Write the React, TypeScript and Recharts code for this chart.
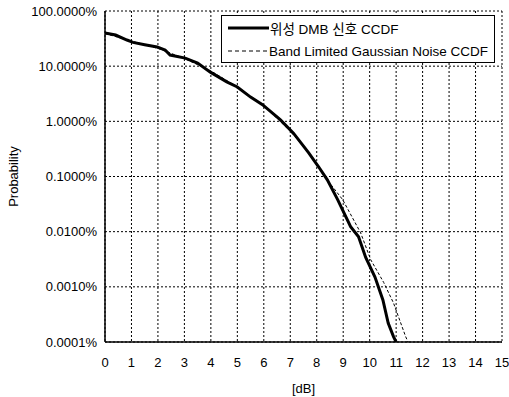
import React from 'react';
import { LineChart, Line, XAxis, YAxis, CartesianGrid, Legend } from 'recharts';

const satX = [0, 0.4, 0.83, 1.06, 1.5, 1.97, 2.27, 2.46, 3.03, 3.5, 3.98, 4.6, 5.0, 5.5, 5.95, 6.63, 7.12, 7.69, 8.07, 8.4, 8.79, 9.28, 9.58, 9.85, 10.2, 10.5, 10.7, 10.9, 11.0];
const satY = [39.8, 36.7, 29.8, 27, 24.5, 22.3, 19.6, 15.9, 14, 11.4, 7.8, 5.2, 4.2, 2.75, 2.0, 1.06, 0.61, 0.27, 0.15, 0.087, 0.038, 0.0123, 0.0081, 0.0034, 0.0015, 0.00058, 0.00022, 0.000125, 0.0001];

const gaussX = [0, 1, 2, 3, 4, 5, 6, 7, 7.6, 8.14, 8.5, 8.98, 9.66, 10.04, 10.53, 10.9, 11.36, 11.45];
const gaussY = [39, 28.5, 21, 13.8, 8.2, 4.2, 1.95, 0.66, 0.31, 0.13, 0.075, 0.038, 0.0095, 0.0031, 0.0012, 0.00051, 0.000125, 0.0001];

const xTicks = [0, 1, 2, 3, 4, 5, 6, 7, 8, 9, 10, 11, 12, 13, 14, 15];
const yTicks = [0.0001, 0.001, 0.01, 0.1, 1, 10, 100];

const seriesNames = ['위성 DMB 신호 CCDF', 'Band Limited Gaussian Noise CCDF'];

const satData = satX.map((x, i) => ({ x, y: satY[i] }));
const gaussData = gaussX.map((x, i) => ({ x, y: gaussY[i] }));

const FONT = '"Liberation Sans", Arial, "Noto Sans CJK KR", sans-serif';

const renderLegend = () => (
  <div
    style={{
      border: '1px solid #000',
      background: '#fff',
      width: 274,
      height: 48,
      boxSizing: 'border-box',
      fontFamily: FONT,
      fontSize: 13.5,
      color: '#000',
      position: 'relative',
    }}
  >
    <div style={{ position: 'absolute', left: 6, top: 3, display: 'flex', alignItems: 'center', height: 18 }}>
      <svg width={41} height={6}><line x1={0} y1={3} x2={41} y2={3} stroke="#000" strokeWidth={3} /></svg>
      <span style={{ marginLeft: 1 }}>{seriesNames[0]}</span>
    </div>
    <div style={{ position: 'absolute', left: 6, top: 26, display: 'flex', alignItems: 'center', height: 18 }}>
      <svg width={40} height={4}><line x1={0} y1={2} x2={40} y2={2} stroke="#000" strokeWidth={1} strokeDasharray="4 3" /></svg>
      <span style={{ marginLeft: 1 }}>{seriesNames[1]}</span>
    </div>
  </div>
);

export default function App() {
  return (
    <div style={{ position: 'absolute', left: 0, top: 0, background: '#fff' }}>
      <LineChart width={509} height={397} margin={{ top: 11, right: 7, bottom: 0, left: 0 }}>
        <CartesianGrid stroke="#000" strokeDasharray="2 2" strokeWidth={1} />
        <XAxis
          dataKey="x"
          type="number"
          domain={[0, 15]}
          ticks={xTicks}
          interval={0}
          allowDataOverflow
          height={55}
          tickLine={false}
          tickMargin={10}
          axisLine={{ stroke: '#000', strokeWidth: 1.5 }}
          tick={{ fill: '#000', fontSize: 13, fontFamily: FONT }}
          label={{
            content: (props: any) => {
              const vb = props.viewBox;
              return (
                <text x={vb.x + vb.width / 2} y={vb.y + 51} textAnchor="middle" fontSize={13} fontFamily={FONT} fill="#000">
                  [dB]
                </text>
              );
            },
          }}
        />
        <YAxis
          dataKey="y"
          type="number"
          scale="log"
          domain={[0.0001, 100]}
          ticks={yTicks}
          interval={0}
          allowDataOverflow
          width={105}
          tickLine={false}
          axisLine={{ stroke: '#000', strokeWidth: 1.5 }}
          tick={{ fill: '#000', fontSize: 13, fontFamily: FONT }}
          tickFormatter={(v: number) => v.toFixed(4) + '%'}
          label={{
            content: (props: any) => {
              const vb = props.viewBox;
              const cx = 13;
              const cy = vb.y + vb.height / 2;
              return (
                <text x={cx} y={cy} transform={`rotate(-90 ${cx} ${cy})`} textAnchor="middle" dominantBaseline="central" fontSize={13} fontFamily={FONT} fill="#000">
                  Probability
                </text>
              );
            },
          }}
        />
        <Legend
          content={renderLegend}
          layout="horizontal"
          verticalAlign="middle"
          align="center"
          wrapperStyle={{ top: 15, left: 221, width: 274, height: 48 }}
        />
        <Line
          data={gaussData}
          dataKey="y"
          type="linear"
          stroke="#000"
          strokeWidth={1}
          strokeDasharray="3 2"
          dot={false}
          isAnimationActive={false}
          name={seriesNames[1]}
        />
        <Line
          data={satData}
          dataKey="y"
          type="linear"
          stroke="#000"
          strokeWidth={3}
          dot={false}
          isAnimationActive={false}
          name={seriesNames[0]}
        />
      </LineChart>
    </div>
  );
}
